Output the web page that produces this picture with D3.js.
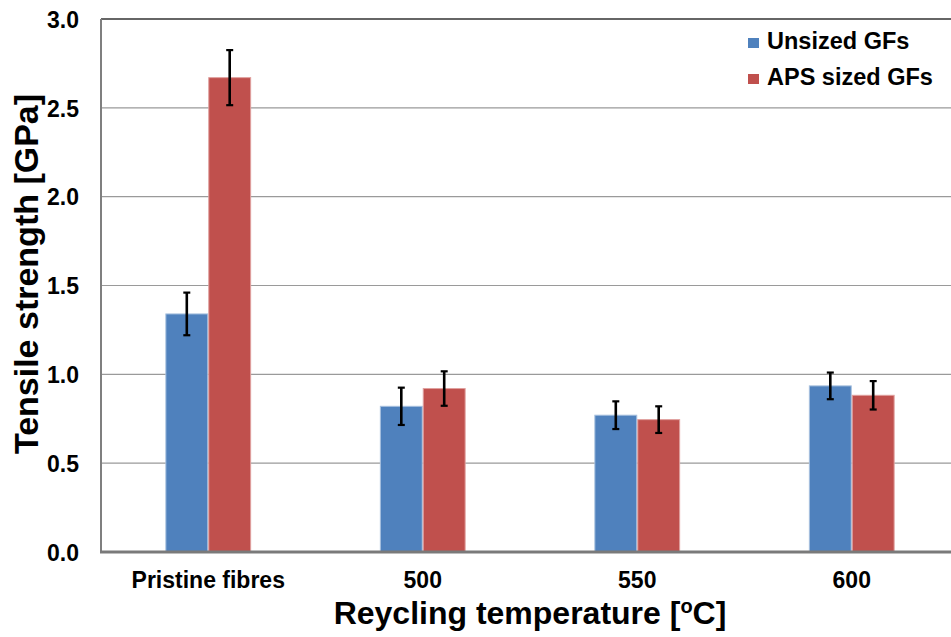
<!DOCTYPE html>
<html><head><meta charset="utf-8">
<script src="https://cdn.jsdelivr.net/npm/d3@7"></script>
<style>
html,body{margin:0;padding:0;background:#fff;}
svg{display:block;font-family:"Liberation Sans",Arial,sans-serif;font-weight:bold;}
</style></head>
<body>
<svg id="chart" width="951" height="637"></svg>
<script>
const categories = ["Pristine fibres", "500", "550", "600"];
const seriesNames = ["Unsized GFs", "APS sized GFs"];
const unsizedValues = [1.34, 0.82, 0.77, 0.935];
const unsizedErrors = [0.12, 0.105, 0.078, 0.075];
const apsValues = [2.67, 0.92, 0.745, 0.882];
const apsErrors = [0.155, 0.097, 0.075, 0.08];
const yTicks = [0, 0.5, 1.0, 1.5, 2.0, 2.5, 3.0];
const colors = ["#4F81BD", "#C0504D"];
const edgeColors = ["#A7C0DE", "#E0A09E"];

const svg = d3.select("#chart");
const plot = {left: 101, right: 959, top: 19, bottom: 552};

const x0 = d3.scaleBand().domain(categories).range([plot.left, plot.right]).padding(0);
const bw = x0.bandwidth();
const x1 = d3.scaleBand().domain(seriesNames).range([bw * 0.3, bw * 0.7]).padding(0);
const y = d3.scaleLinear().domain([0, 3]).range([plot.bottom, plot.top]);

// gridlines
svg.append("g").selectAll("line").data(yTicks.filter(d => d > 0)).join("line")
  .attr("x1", plot.left).attr("x2", plot.right)
  .attr("y1", d => y(d)).attr("y2", d => y(d))
  .attr("stroke", d => d === 3 ? "#333" : "#9a9a9a")
  .attr("stroke-width", d => d === 3 ? 1.6 : 1.2);

const data = categories.map((c, i) => ({
  cat: c,
  vals: [
    {s: seriesNames[0], v: unsizedValues[i], e: unsizedErrors[i], k: 0},
    {s: seriesNames[1], v: apsValues[i], e: apsErrors[i], k: 1}
  ]
}));

const groups = svg.append("g").selectAll("g").data(data).join("g")
  .attr("transform", d => `translate(${x0(d.cat)},0)`);

groups.selectAll("rect").data(d => d.vals).join("rect")
  .attr("x", d => x1(d.s) + 0.5)
  .attr("y", d => y(d.v))
  .attr("width", x1.bandwidth() - 1)
  .attr("height", d => y(0) - y(d.v))
  .attr("fill", d => colors[d.k])
  .attr("stroke", d => edgeColors[d.k])
  .attr("stroke-width", 1);

// error bars
const eb = groups.selectAll("g.err").data(d => d.vals).join("g").attr("class", "err");
eb.append("line")
  .attr("x1", d => x1(d.s) + x1.bandwidth() / 2)
  .attr("x2", d => x1(d.s) + x1.bandwidth() / 2)
  .attr("y1", d => y(d.v + d.e)).attr("y2", d => y(d.v - d.e))
  .attr("stroke", "#000").attr("stroke-width", 2.6);
[1, -1].forEach(sg => {
  eb.append("line")
    .attr("x1", d => x1(d.s) + x1.bandwidth() / 2 - 3.5)
    .attr("x2", d => x1(d.s) + x1.bandwidth() / 2 + 3.5)
    .attr("y1", d => y(d.v + sg * d.e)).attr("y2", d => y(d.v + sg * d.e))
    .attr("stroke", "#000").attr("stroke-width", 2.2);
});

// axes lines
svg.append("line").attr("x1", plot.left).attr("x2", plot.left)
  .attr("y1", plot.top).attr("y2", plot.bottom)
  .attr("stroke", "#7f7f7f").attr("stroke-width", 2);
svg.append("line").attr("x1", plot.left - 1).attr("x2", plot.right)
  .attr("y1", plot.bottom).attr("y2", plot.bottom)
  .attr("stroke", "#7a7a7a").attr("stroke-width", 3);

// y tick labels
const yAxis = d3.axisLeft(y).tickValues(yTicks).tickFormat(d3.format(".1f")).tickSize(0).tickPadding(22);
const ya = svg.append("g").attr("transform", `translate(${plot.left},0)`).call(yAxis);
ya.select(".domain").remove();
ya.selectAll("text").attr("font-size", 23).attr("font-family", "Liberation Sans, Arial, sans-serif")
  .attr("font-weight", "bold").attr("fill", "#000").attr("dy", "0.36em");

// x tick labels
const xAxis = d3.axisBottom(x0).tickSize(0).tickPadding(0);
const xa = svg.append("g").attr("transform", `translate(0,${plot.bottom})`).call(xAxis);
xa.select(".domain").remove();
xa.selectAll("text").attr("font-size", 23).attr("font-family", "Liberation Sans, Arial, sans-serif")
  .attr("font-weight", "bold").attr("fill", "#000").attr("y", 36).attr("dy", 0);

// axis titles
svg.append("text").attr("transform", "translate(38,274) rotate(-90)")
  .attr("text-anchor", "middle").attr("font-size", 34).attr("fill", "#000")
  .text("Tensile strength [GPa]");
const xt = svg.append("text").attr("x", 530).attr("y", 624)
  .attr("text-anchor", "middle").attr("font-size", 32).attr("fill", "#000");
xt.append("tspan").text("Reycling temperature [");
xt.append("tspan").attr("font-size", 20).attr("dy", -11).text("o");
xt.append("tspan").attr("dy", 11).text("C]");

// legend
const lg = svg.append("g").selectAll("g").data(seriesNames).join("g")
  .attr("transform", (d, i) => `translate(748,${38 + i * 36})`);
lg.append("rect").attr("width", 11).attr("height", 10).attr("fill", (d, i) => colors[i]);
lg.append("text").attr("x", 19).attr("y", 11).attr("font-size", 23.5).attr("fill", "#000").text(d => d);
</script>
</body></html>
